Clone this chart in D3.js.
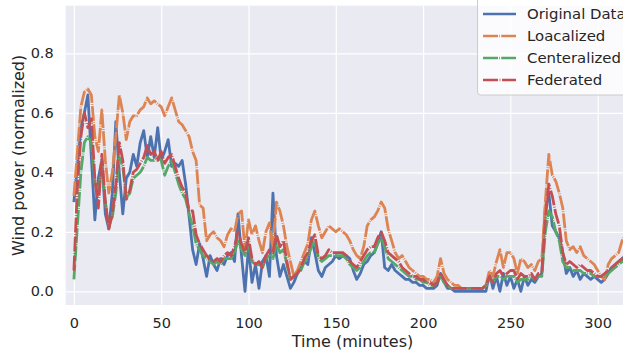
<!DOCTYPE html>
<html>
<head>
<meta charset="utf-8">
<script src="https://cdn.jsdelivr.net/npm/d3@7"></script>
<style>
  html, body { margin: 0; padding: 0; background: #ffffff; }
  svg { display: block; font-family: "DejaVu Sans", sans-serif; }
  .tick text { fill: #262626; font-size: 14.5px; }
</style>
</head>
<body>
<svg id="chart" width="623" height="354"></svg>
<script>
// ---------------------------
// Data (one sample every 2 minutes)
// ---------------------------
const minutes = [
  0, 2, 4, 6, 8, 10, 12, 14, 16, 18, 20, 22, 24, 26, 28, 30, 32, 34, 36, 38,
  40, 42, 44, 46, 48, 50, 52, 54, 56, 58, 60, 62, 64, 66, 68, 70, 72, 74, 76, 78,
  80, 82, 84, 86, 88, 90, 92, 94, 96, 98, 100, 102, 104, 106, 108, 110, 112, 114, 116, 118,
  120, 122, 124, 126, 128, 130, 132, 134, 136, 138, 140, 142, 144, 146, 148, 150, 152, 154, 156, 158,
  160, 162, 164, 166, 168, 170, 172, 174, 176, 178, 180, 182, 184, 186, 188, 190, 192, 194, 196, 198,
  200, 202, 204, 206, 208, 210, 212, 214, 216, 218, 220, 222, 224, 226, 228, 230, 232, 234, 236, 238,
  240, 242, 244, 246, 248, 250, 252, 254, 256, 258, 260, 262, 264, 266, 268, 270, 272, 274, 276, 278,
  280, 282, 284, 286, 288, 290, 292, 294, 296, 298, 300, 302, 304, 306, 308, 310, 312, 314, 316
];

const originalData = [
  0.30, 0.42, 0.55, 0.60, 0.66, 0.45, 0.24, 0.38, 0.44, 0.26, 0.21, 0.33, 0.57, 0.40, 0.26, 0.38, 0.40, 0.46, 0.42, 0.50,
  0.54, 0.45, 0.52, 0.45, 0.55, 0.44, 0.47, 0.51, 0.42, 0.43, 0.42, 0.44, 0.36, 0.25, 0.14, 0.09, 0.16, 0.11, 0.05, 0.12,
  0.09, 0.07, 0.11, 0.09, 0.12, 0.13, 0.10, 0.26, 0.12, 0.00, 0.15, 0.03, 0.09, 0.01, 0.10, 0.12, 0.05, 0.33, 0.12, 0.05,
  0.09, 0.05, 0.01, 0.03, 0.06, 0.08, 0.10, 0.09, 0.18, 0.13, 0.07, 0.05, 0.08, 0.09, 0.10, 0.12, 0.11, 0.12, 0.12, 0.11,
  0.07, 0.04, 0.06, 0.09, 0.10, 0.12, 0.13, 0.16, 0.20, 0.08, 0.07, 0.09, 0.07, 0.06, 0.05, 0.04, 0.04, 0.03, 0.03, 0.02,
  0.02, 0.01, 0.01, 0.01, 0.02, 0.06, 0.03, 0.01, 0.01, 0.00, 0.00, 0.00, 0.00, 0.00, 0.00, 0.00, 0.00, 0.00, 0.00, 0.06,
  0.01, 0.05, 0.00, 0.06, 0.02, 0.05, 0.01, 0.04, 0.00, 0.05, 0.02, 0.04, 0.03, 0.05, 0.06, 0.28, 0.33, 0.22, 0.20, 0.18,
  0.13, 0.06, 0.08, 0.05, 0.07, 0.04, 0.06, 0.05, 0.04, 0.05, 0.04, 0.03, 0.04, 0.06, 0.08, 0.09, 0.10, 0.11, 0.12
];

const localized = [
  0.32, 0.47, 0.62, 0.67, 0.68, 0.66, 0.52, 0.47, 0.61, 0.44, 0.33, 0.40, 0.52, 0.66, 0.60, 0.51, 0.57, 0.59, 0.59, 0.61,
  0.62, 0.65, 0.63, 0.64, 0.63, 0.62, 0.59, 0.62, 0.65, 0.61, 0.57, 0.56, 0.54, 0.52, 0.47, 0.44, 0.29, 0.28, 0.17, 0.19,
  0.20, 0.18, 0.17, 0.15, 0.19, 0.21, 0.20, 0.26, 0.27, 0.14, 0.24, 0.19, 0.22, 0.17, 0.13, 0.20, 0.23, 0.14, 0.30, 0.27,
  0.22, 0.15, 0.10, 0.05, 0.07, 0.10, 0.13, 0.16, 0.24, 0.27, 0.22, 0.18, 0.20, 0.22, 0.21, 0.20, 0.21, 0.20, 0.19, 0.17,
  0.14, 0.12, 0.11, 0.15, 0.22, 0.24, 0.25, 0.27, 0.30, 0.28, 0.21, 0.17, 0.13, 0.11, 0.12, 0.10, 0.08, 0.07, 0.06, 0.05,
  0.05, 0.04, 0.04, 0.03, 0.05, 0.11, 0.06, 0.04, 0.03, 0.02, 0.02, 0.01, 0.01, 0.01, 0.01, 0.01, 0.01, 0.01, 0.02, 0.07,
  0.05, 0.10, 0.14, 0.08, 0.13, 0.13, 0.11, 0.06, 0.11, 0.10, 0.08, 0.09, 0.07, 0.10, 0.11, 0.30, 0.46, 0.39, 0.37, 0.33,
  0.28, 0.17, 0.14, 0.15, 0.13, 0.15, 0.12, 0.11, 0.10, 0.09, 0.07, 0.05, 0.04, 0.09, 0.11, 0.12, 0.13, 0.17, 0.19
];

const centeralized = [
  0.04, 0.22, 0.40, 0.50, 0.52, 0.50, 0.36, 0.34, 0.42, 0.30, 0.22, 0.25, 0.33, 0.45, 0.42, 0.31, 0.33, 0.38, 0.39, 0.40,
  0.42, 0.45, 0.44, 0.44, 0.45, 0.44, 0.39, 0.42, 0.44, 0.40, 0.36, 0.33, 0.31, 0.26, 0.22, 0.16, 0.14, 0.12, 0.11, 0.10,
  0.09, 0.10, 0.09, 0.11, 0.11, 0.11, 0.13, 0.17, 0.14, 0.12, 0.16, 0.10, 0.09, 0.09, 0.08, 0.11, 0.12, 0.11, 0.16, 0.13,
  0.14, 0.09, 0.04, 0.05, 0.06, 0.07, 0.10, 0.11, 0.15, 0.17, 0.11, 0.10, 0.11, 0.12, 0.12, 0.12, 0.12, 0.12, 0.11, 0.09,
  0.08, 0.07, 0.08, 0.10, 0.12, 0.13, 0.13, 0.16, 0.18, 0.15, 0.11, 0.10, 0.09, 0.08, 0.07, 0.06, 0.05, 0.05, 0.04, 0.04,
  0.03, 0.03, 0.02, 0.02, 0.03, 0.05, 0.03, 0.02, 0.01, 0.01, 0.01, 0.01, 0.01, 0.01, 0.01, 0.01, 0.01, 0.01, 0.02, 0.04,
  0.03, 0.05, 0.05, 0.04, 0.05, 0.05, 0.05, 0.03, 0.04, 0.04, 0.04, 0.05, 0.04, 0.05, 0.05, 0.20, 0.27, 0.25, 0.20, 0.17,
  0.10, 0.08, 0.08, 0.07, 0.07, 0.07, 0.06, 0.06, 0.06, 0.05, 0.05, 0.05, 0.05, 0.06, 0.07, 0.08, 0.09, 0.10, 0.11
];

const federated = [
  0.07, 0.35, 0.52, 0.60, 0.55, 0.58, 0.38, 0.28, 0.46, 0.30, 0.21, 0.26, 0.36, 0.50, 0.44, 0.31, 0.34, 0.40, 0.41, 0.43,
  0.45, 0.49, 0.46, 0.47, 0.44, 0.47, 0.43, 0.45, 0.46, 0.42, 0.38, 0.35, 0.33, 0.27, 0.27, 0.19, 0.16, 0.14, 0.12, 0.11,
  0.10, 0.11, 0.10, 0.12, 0.13, 0.12, 0.15, 0.20, 0.16, 0.13, 0.18, 0.11, 0.09, 0.10, 0.08, 0.12, 0.14, 0.13, 0.19, 0.15,
  0.17, 0.10, 0.04, 0.05, 0.06, 0.08, 0.11, 0.13, 0.17, 0.19, 0.12, 0.11, 0.12, 0.14, 0.13, 0.13, 0.13, 0.13, 0.12, 0.10,
  0.09, 0.08, 0.10, 0.12, 0.14, 0.15, 0.15, 0.18, 0.20, 0.17, 0.13, 0.12, 0.11, 0.10, 0.08, 0.07, 0.06, 0.05, 0.05, 0.04,
  0.04, 0.03, 0.03, 0.02, 0.03, 0.06, 0.04, 0.02, 0.01, 0.01, 0.01, 0.01, 0.01, 0.01, 0.01, 0.01, 0.01, 0.01, 0.02, 0.05,
  0.03, 0.06, 0.07, 0.05, 0.06, 0.07, 0.07, 0.04, 0.06, 0.05, 0.05, 0.06, 0.04, 0.06, 0.06, 0.24, 0.36, 0.32, 0.26, 0.22,
  0.13, 0.09, 0.10, 0.09, 0.08, 0.09, 0.08, 0.07, 0.07, 0.06, 0.05, 0.05, 0.06, 0.07, 0.08, 0.09, 0.10, 0.11, 0.12
];

const seriesNames = ['Original Data', 'Loacalized', 'Centeralized', 'Federated'];
const seriesColors = ['#4C72B0', '#DD8452', '#55A868', '#C44E52'];
const seriesDashes = [null, '15,1.2,0.8,1.2', '15,1.2,0.8,1.2', '15,1.6,0.8,1.6'];
const xTicks = [0, 50, 100, 150, 200, 250, 300];
const yTicks = [0.0, 0.2, 0.4, 0.6, 0.8];

// ---------------------------
// Layout
// ---------------------------
const svg = d3.select('#chart');
const plot = { left: 65.7, top: 5.7, right: 639.3, bottom: 305 };
const plotW = plot.right - plot.left;
const plotH = plot.bottom - plot.top;

const x = d3.scaleLinear().domain([0, 300]).range([73.9, 597.7]);
const y = d3.scaleLinear().domain([0, 0.8]).range([291.3, 53.3]);

svg.append('rect')
  .attr('x', plot.left).attr('y', plot.top)
  .attr('width', plotW).attr('height', plotH)
  .attr('fill', '#EAEAF2');

svg.append('defs').append('clipPath').attr('id', 'plot-clip')
  .append('rect')
  .attr('x', plot.left).attr('y', plot.top)
  .attr('width', plotW).attr('height', plotH);

// grid + ticks
const xAxis = svg.append('g')
  .attr('transform', `translate(0,${plot.bottom})`)
  .call(d3.axisBottom(x).tickValues(xTicks).tickFormat(d3.format('d'))
    .tickSizeInner(-plotH).tickSizeOuter(0).tickPadding(12.7));
const yAxis = svg.append('g')
  .attr('transform', `translate(${plot.left},0)`)
  .call(d3.axisLeft(y).tickValues(yTicks).tickFormat(d3.format('.1f'))
    .tickSizeInner(-plotW).tickSizeOuter(0).tickPadding(12));

[xAxis, yAxis].forEach(ax => {
  ax.select('.domain').remove();
  ax.selectAll('.tick line').attr('stroke', '#ffffff').attr('stroke-width', 1.2);
  ax.attr('font-family', null).attr('font-size', null);
});

// ---------------------------
// Lines
// ---------------------------
const allSeries = [originalData, localized, centeralized, federated];
const lineGen = d3.line()
  .x((d, i) => x(minutes[i]))
  .y(d => y(d));

const linesG = svg.append('g').attr('clip-path', 'url(#plot-clip)');
allSeries.forEach((values, k) => {
  linesG.append('path')
    .datum(values)
    .attr('d', lineGen)
    .attr('fill', 'none')
    .attr('stroke', seriesColors[k])
    .attr('stroke-width', 2.8)
    .attr('stroke-linejoin', 'round')
    .attr('stroke-dasharray', seriesDashes[k]);
});

// ---------------------------
// Axis labels
// ---------------------------
svg.append('text')
  .attr('x', (plot.left + plot.right) / 2).attr('y', 347)
  .attr('text-anchor', 'middle')
  .attr('fill', '#262626').attr('font-size', 16)
  .text('Time (minutes)');

svg.append('text')
  .attr('transform', `translate(24,${(plot.top + plot.bottom) / 2}) rotate(-90)`)
  .attr('text-anchor', 'middle')
  .attr('fill', '#262626').attr('font-size', 16)
  .text('Wind power (normalized)');

// ---------------------------
// Legend
// ---------------------------
const legend = svg.append('g');
legend.append('rect')
  .attr('x', 477.5).attr('y', -4)
  .attr('width', 155).attr('height', 99)
  .attr('rx', 3)
  .attr('fill', '#ffffff').attr('fill-opacity', 0.8)
  .attr('stroke', '#cccccc').attr('stroke-width', 1);

seriesNames.forEach((name, k) => {
  const cy = 14 + k * 22;
  legend.append('line')
    .attr('x1', 483).attr('x2', 516)
    .attr('y1', cy).attr('y2', cy)
    .attr('stroke', seriesColors[k])
    .attr('stroke-width', 2.5)
    .attr('stroke-dasharray', seriesDashes[k]);
  legend.append('text')
    .attr('x', 527).attr('y', cy).attr('dy', '0.35em')
    .attr('fill', '#262626').attr('font-size', 14.9)
    .text(name);
});
</script>
</body>
</html>
